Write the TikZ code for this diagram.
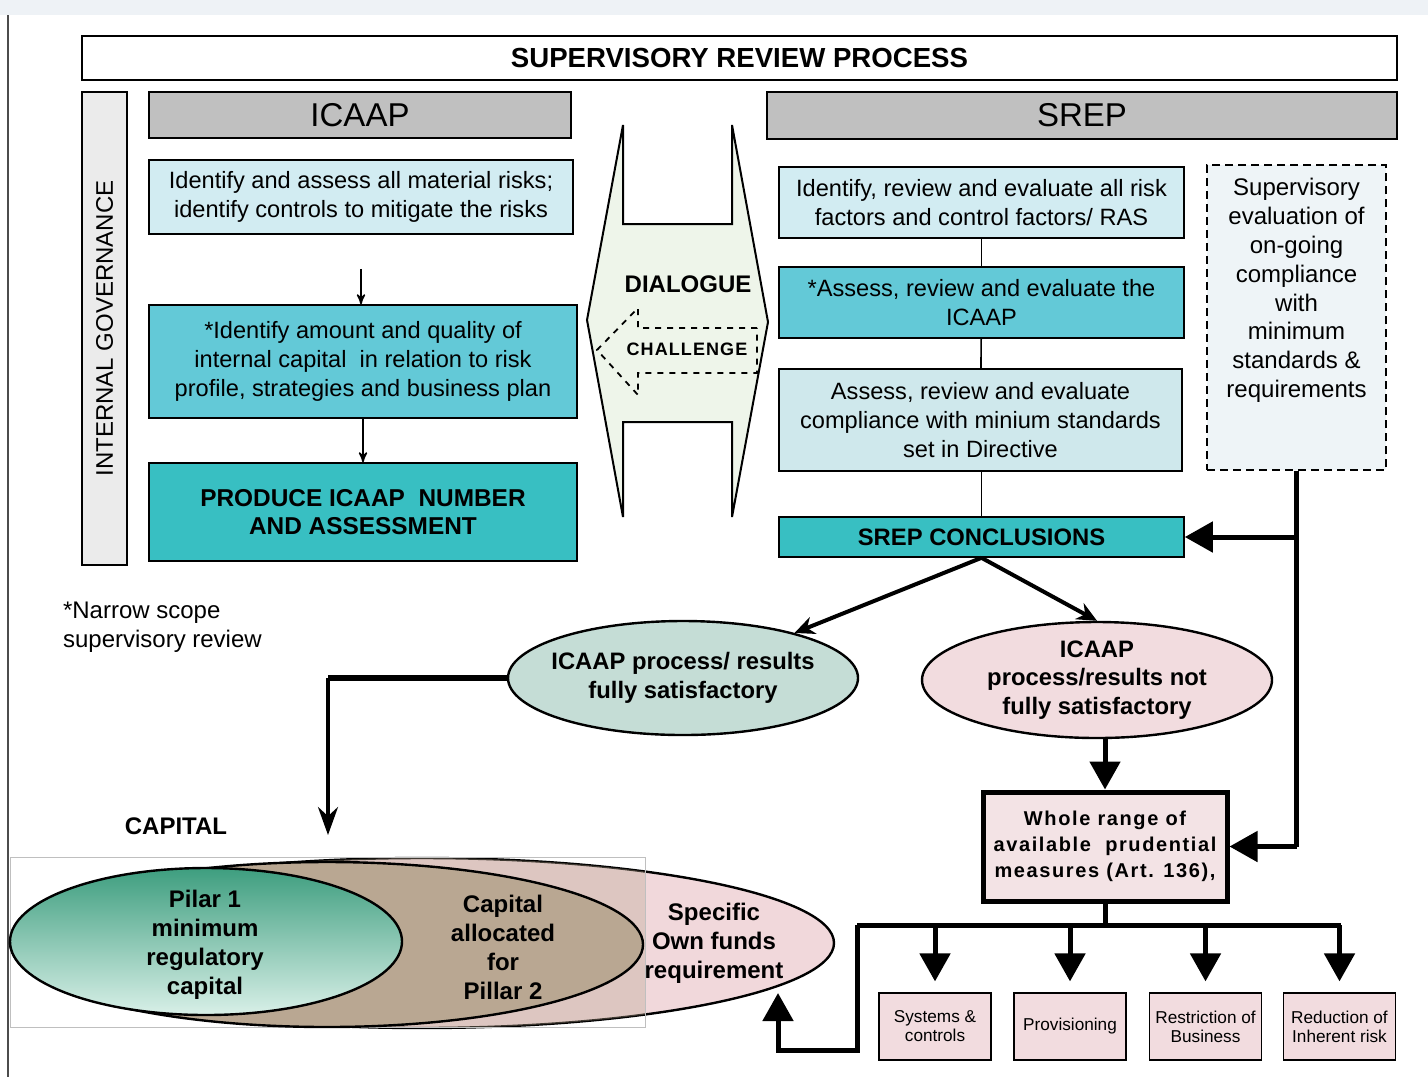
\documentclass[tikz,border=0pt]{standalone}
\usepackage{fontspec}
\setmainfont{Liberation Sans}
\usepackage{xcolor}
\usetikzlibrary{arrows,arrows.meta,shapes,positioning}
\usetikzlibrary{shadings}

\newdimen\px \px=0.5pt

\definecolor{govgray}{HTML}{EBEBEB}
\definecolor{hdrgray}{HTML}{C0C0C0}
\definecolor{palecyan}{HTML}{D2ECF2}
\definecolor{midcyan}{HTML}{63C9D7}
\definecolor{deepteal}{HTML}{38BFC2}
\definecolor{dotcyan}{HTML}{CFE8EC}
\definecolor{dashfill}{HTML}{EEF4F7}
\definecolor{dialfill}{HTML}{EEF5EA}
\definecolor{satfill}{HTML}{C5DDD6}
\definecolor{rosefill}{HTML}{F2DCDF}
\definecolor{wholefill}{HTML}{F3E3E5}
\definecolor{specfill}{HTML}{F1D8DB}
\definecolor{p2brown}{HTML}{B9A792}
\definecolor{p1dark}{HTML}{3E9E7F}
\definecolor{p1light}{HTML}{D9F0E8}
\definecolor{topband}{HTML}{EEF2F6}

\begin{document}
\begin{tikzpicture}[x=0.5pt,y=-0.5pt,>=stealth',
	font=\fontsize{11.8}{14.5}\selectfont,
	box/.style={draw,line width=0.8pt,align=center,inner sep=1pt},
	head/.style={box,fill=hdrgray,font=\fontsize{16.5}{18}\selectfont},
	bold text/.style={font=\bfseries\fontsize{12}{14.5}\selectfont},
	outcome/.style={ellipse,draw,line width=1.2pt,inner xsep=-4pt,inner ysep=0pt,align=center,
		minimum width=350\px,font=\bfseries\fontsize{11.9}{14.2}\selectfont},
	measure/.style={draw,line width=0.6pt,fill=rosefill,align=center,inner sep=0pt,
		font=\fontsize{8.6}{9.5}\selectfont,minimum width=112\px,minimum height=67\px},
	link/.style={line width=0.8pt},
	fat/.style={line width=2.5pt},
	fat arrow/.style={fat,-{Triangle[length=14pt,width=15pt]}},
	split arrow/.style={line width=2pt,-{Stealth[length=10pt,width=9pt]}}]

	\useasboundingbox (0,0) rectangle (1428,1077);
	% page frame
	\fill[topband] (0,0) rectangle (1428,15);
	\draw[line width=1pt,black!70] (8,15) -- (8,1077);

	% title and side bar
	\node[draw,line width=0.8pt,minimum width=1315\px,minimum height=44\px,
		font=\bfseries\fontsize{13.8}{15}\selectfont] (title) at (739.5,58) {SUPERVISORY REVIEW PROCESS};
	\node[draw,line width=0.8pt,fill=govgray,rotate=90,minimum width=473\px,minimum height=45\px,
		font=\fontsize{12}{13}\selectfont] (gov) at (104.5,328.5) {INTERNAL GOVERNANCE};

	% ICAAP column
	\node[head,minimum width=422\px,minimum height=46\px] (icaap) at (360,115) {ICAAP};
	\node[box,fill=palecyan,minimum width=424\px,minimum height=74\px] (risks) at (361,197)
		{Identify and assess all material risks;\\identify controls to mitigate the risks};
	\node[box,fill=midcyan,minimum width=428\px,minimum height=113\px] (capital) at (363,361.5)
		{*Identify amount and quality of\\internal capital\ \ in relation to risk\\profile, strategies and business plan};
	\node[box,fill=deepteal,minimum width=428\px,minimum height=98\px,
		font=\bfseries\fontsize{12.2}{14}\selectfont] (produce) at (363,512)
		{PRODUCE ICAAP\ \ NUMBER\\AND ASSESSMENT};

	\draw[link,->,shorten <=34\px] (risks.south) -- (risks.south |- capital.north);
	\draw[link,->] (capital.south) -- (produce.north);

	% dialogue double arrow
	\draw[line width=1pt,fill=dialfill] (623,125) -- (623,224) -- (732,224) -- (732,125)
		-- (768,322) -- (732,517) -- (732,422) -- (623,422) -- (623,517) -- (587,320) -- cycle;
	\draw[line width=0.9pt,dashed] (757,328) -- (638,328) -- (638,308) -- (597,350)
		-- (638,395) -- (638,373) -- (757,373) -- cycle;
	\node[font=\bfseries\fontsize{12}{14}\selectfont] (dialogue) at (688,284) {DIALOGUE};
	\node[font=\bfseries\fontsize{9}{11}\selectfont\addfontfeature{LetterSpace=6}] (challenge) at (687,349) {CHALLENGE};

	% SREP column
	\node[head,minimum width=630\px,minimum height=47\px] (srep) at (1082,115.5) {SREP};
	\node[box,fill=palecyan,minimum width=405\px,minimum height=71\px] (factors) at (981.5,202.5)
		{Identify, review and evaluate all risk\\factors and control factors/ RAS};
	\node[box,fill=midcyan,minimum width=405\px,minimum height=71\px] (review) at (981.5,302.5)
		{*Assess, review and evaluate the\\ICAAP};
	\node[box,fill=dotcyan,minimum width=403\px,minimum height=102\px] (comply) at (980.5,420)
		{Assess, review and evaluate\\compliance with minium standards\\set in Directive};
	\node[box,fill=deepteal,minimum width=405\px,minimum height=40\px,
		font=\bfseries\fontsize{11.9}{13}\selectfont] (concl) at (981.5,537) {SREP CONCLUSIONS};
	\node[draw,line width=1pt,dash pattern=on 4pt off 2.5pt,fill=dashfill,
		minimum width=179\px,minimum height=305\px] (ongoing) at (1296.5,317.5) {};
	\node[align=center,font=\fontsize{12}{14.4}\selectfont] (ongoingtext) at (1296.5,290.5)
		{Supervisory\\evaluation of\\on-going\\compliance\\with\\minimum\\standards \&\\requirements};

	\draw[link] (factors) -- (review);
	\draw[link] (review) -- (comply);
	\draw[link] (comply.south -| concl.north) -- (concl.north);

	% outcomes
	\node[outcome,fill=satfill,minimum height=114\px] (sat) at (683,678)
		{ICAAP process/ results\\fully satisfactory};
	\node[outcome,fill=rosefill,minimum height=116\px] (notsat) at (1097,680)
		{ICAAP\\process/results not\\fully satisfactory};
	\node[draw,line width=2.5pt,fill=wholefill,align=center,minimum width=244\px,minimum height=109\px,
		font=\bfseries\fontsize{10}{13}\selectfont\addfontfeature{LetterSpace=8}] (whole) at (1105,846.5)
		{Whole range of\\available\ \ prudential\\measures (Art. 136),};

	\draw[split arrow] (concl.south) -- (sat.22);
	\draw[split arrow] (concl.south) -- (notsat.north);
	\draw[fat arrow] (whole.north |- notsat.south) -- (whole.north);
	\coordinate (join) at (ongoing.south |- concl.east);
	\draw[fat] (ongoing.south) -- (ongoing.south |- whole.east);
	\draw[fat arrow] (join) -- (concl.east);
	\draw[fat arrow] (ongoing.south |- whole.east) -- (whole.east);

	% measures
	\node[measure] (systems) at (935,1026.5) {Systems \&\\controls};
	\node[measure] (provision) at (1070,1026.5) {Provisioning};
	\node[measure] (restrict) at (1205.5,1026.5) {Restriction of\\Business};
	\node[measure] (reduce) at (1339.5,1026.5) {Reduction of\\Inherent risk};

	\coordinate (busL) at (857,925);
	\coordinate (busR) at (1341,925);
	\draw[fat] (whole.south) -- (whole.south |- busL);
	\draw[fat] (busL) -- (busR);
	\foreach \m in {systems,provision,restrict,reduce}
		\draw[fat arrow,shorten >=11\px] (\m.north |- busL) -- (\m.north);

	% capital
	\node[align=left,anchor=north west,font=\fontsize{12}{14.5}\selectfont] (note) at (56,595) {*Narrow scope\\supervisory review};
	\node[font=\bfseries\fontsize{12}{13}\selectfont] (caplabel) at (176,826) {CAPITAL};
	\coordinate (capin) at (328,835);
	\draw[line width=3pt] (sat.west) -- (capin |- sat.west);
	\draw[line width=1.8pt,-{Stealth[length=14pt,width=10pt]}] (capin |- sat.west) -- (capin);

	\node[ellipse,draw,line width=1.2pt,fill=specfill,minimum width=824\px,minimum height=170\px] (spec) at (422,943) {};
	\begin{scope}
		\clip (422,943) ellipse [x radius=412,y radius=85];
		\fill[p2brown,opacity=0.35] (10,857) rectangle (645,1027);
	\end{scope}
	\draw[black!25] (10,857) rectangle (645,1027);
	\node[ellipse,draw,line width=1.2pt,fill=p2brown,minimum width=632\px,minimum height=165\px] (pillar2) at (327,944.5) {};
	\node[ellipse,draw,line width=1.2pt,top color=p1dark,bottom color=p1light,minimum width=392\px,minimum height=147\px] (pillar1) at (206,941.5) {};

	\node[align=center,bold text] at (205,945) {Pilar 1\\minimum\\regulatory\\capital};
	\node[align=center,bold text] at (503,947) {Capital\\allocated\\for\\Pillar 2};
	\node[align=center,bold text] at (714,943) {Specific\\Own funds\\requirement};

	\coordinate (specin) at (778,993);
	\draw[fat arrow] (busL) -- ++(0,125) -| (specin);
\end{tikzpicture}
\end{document}
